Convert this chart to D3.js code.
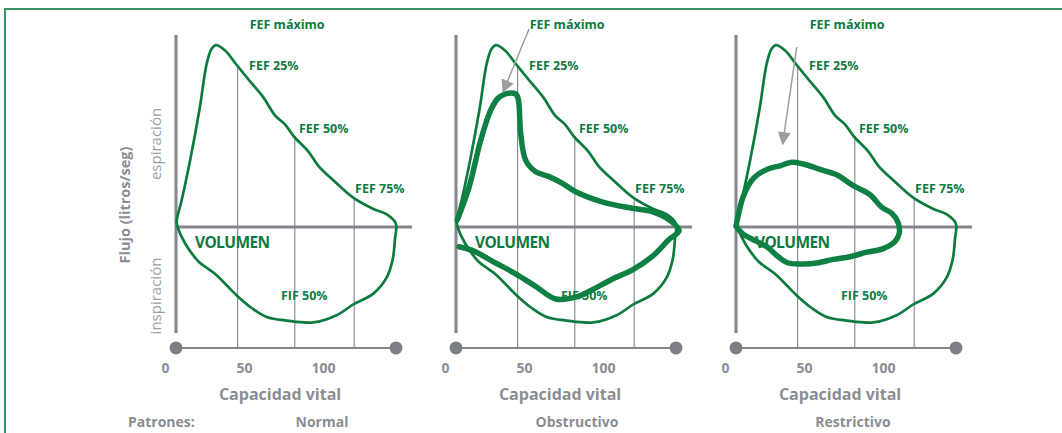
<!DOCTYPE html>
<html lang="es">
<head>
<meta charset="UTF-8">
<title>Curvas flujo-volumen</title>
<script src="https://cdn.jsdelivr.net/npm/d3@7"></script>
<style>
    body { margin: 0; background: #fff; }
    svg { display: block; font-family: "Open Sans", sans-serif; }
</style>
</head>
<body>
<script>
    // patrones y etiquetas
    const patterns = ['Normal', 'Obstructivo', 'Restrictivo']
    const tickValues = [0, 50, 100]

    // curva normal (volumen % CV, flujo l/s), lazo cerrado
    const normalVol = [0.3, 2.6, 6.4, 10.9, 14, 16.2, 18.2, 22.3, 27.6, 33.6, 39.7, 45, 49.5, 53.8, 60.1, 64.7, 71.5, 80.9, 89.7, 95.8, 99.9,
        99.5, 98.5, 95.8, 89.7, 80.6, 73, 62.4, 50.3, 41.2, 34.4, 27.6, 17.7, 10.1, 4.1, 1]
    const normalFlow = [0.3, 1.5, 3.7, 6.7, 9.1, 9.9, 10.1, 9.8, 9.0, 8.1, 7.2, 6.2, 5.7, 5.0, 4.2, 3.4, 2.6, 1.6, 1.0, 0.7, 0.2,
        -0.7, -1.8, -2.8, -3.7, -4.3, -4.9, -5.3, -5.2, -5.0, -4.5, -3.8, -2.6, -1.9, -0.9, -0.1]

    // patron obstructivo (trazo abierto)
    const obstVol = [1.4, 7.4, 18, 27.1, 36.2, 45.3, 54.4, 61.8, 70.9, 80, 89.1, 96.8, 101.4,
        96.8, 89.2, 80.1, 66.4, 54.4, 48.2, 42.3, 36.2, 31.7, 29.4, 28.3, 27.1, 22.6, 19.5, 15.8, 11.2, 5.9, 0.6]
    const obstFlow = [-1.1, -1.3, -2.0, -2.6, -3.3, -4.0, -3.9, -3.5, -2.9, -2.4, -1.65, -0.7, -0.2,
        0.4, 0.85, 1.04, 1.4, 1.96, 2.44, 2.8, 3.07, 3.7, 5.2, 7.1, 7.4, 7.4, 7.2, 6.5, 4.8, 2.2, 0.4]

    // patron restrictivo (sale y vuelve al origen)
    const restVol = [0, 1.5, 3.3, 7.9, 14, 20, 25.3, 30.6, 38.2, 45.8, 53.3, 60.9, 66.2, 70.8, 73.8, 74.2,
        72.3, 67, 59.4, 51.8, 44.2, 36.7, 30.6, 23.8, 19.2, 14, 9.4, 3.3, 0]
    const restFlow = [0.05, 0.9, 1.7, 2.7, 3.2, 3.4, 3.6, 3.5, 3.2, 2.9, 2.3, 1.8, 1.1, 0.76, 0.2, -0.35,
        -0.8, -1.2, -1.4, -1.65, -1.8, -2.0, -2.05, -2.0, -1.65, -1.1, -0.8, -0.4, 0.05]

    // lineas FEF 25/50/75
    const fefVol = [28, 54, 81]
    const fefFlowTop = [9.0, 5.0, 1.6]
    const fefNames = ['FEF 25%', 'FEF 50%', 'FEF 75%']
    const fefLabelVol = [33.2, 55.9, 81.4]
    const fefLabelFlow = [8.7, 5.2, 1.9]

    // flechas (desde -> hasta) para obstructivo y restrictivo
    const arrowFrom = [null, [33.2, 11.0], [27.6, 10.0]]
    const arrowTo = [null, [21.4, 7.5], [21.2, 4.6]]

    const [width, height] = [1062, 433]
    const green = '#0d7a3f', thick = '#0f8043', gray = '#82868c', grayText = '#8a8d92'
    const nameOffset = [146, 121, 117]

    const svg = d3.select('body').append('svg')
        .attr('width', width).attr('height', height)

    svg.append('defs').append('marker')
        .attr('id', 'arrow')
        .attr('viewBox', '0 0 12 12')
        .attr('refX', 11).attr('refY', 6)
        .attr('markerWidth', 15).attr('markerHeight', 13)
        .attr('markerUnits', 'userSpaceOnUse')
        .attr('orient', 'auto')
        .append('path').attr('d', 'M0,0 L12,6 L0,12 Z').attr('fill', '#9a9da2')

    // marco verde
    svg.append('path')
        .attr('d', `M5,${height} V9 H${width}`)
        .attr('fill', 'none').attr('stroke', '#3a9168').attr('stroke-width', 2)

    const origin = d3.scalePoint().domain(patterns).range([176, 736])
    const x = d3.scaleLinear().domain([0, 100]).range([0, 220])
    const y = d3.scaleLinear().domain([0, 10]).range([227, 47])
    const tickX = d3.scaleLinear().domain([0, 100]).range([-11, 147])

    const zip = (a, b) => a.map((v, i) => [v, b[i]])
    const openLine = d3.line().x(d => x(d[0])).y(d => y(d[1])).curve(d3.curveCatmullRom.alpha(0.5))
    const closedLine = d3.line().x(d => x(d[0])).y(d => y(d[1])).curve(d3.curveCatmullRomClosed.alpha(0.5))

    const [axisTop, axisBottom, baseFlow, zeroEnd] = [10.67, -5.89, -6.72, 107.3]

    patterns.forEach((p, i) => {
        const g = svg.append('g').attr('transform', `translate(${origin(p)},0)`)

        // lineas verticales FEF
        g.selectAll('line.fef').data(fefVol).enter().append('line').attr('class', 'fef')
            .attr('x1', d => x(d)).attr('x2', d => x(d))
            .attr('y1', (d, j) => y(fefFlowTop[j])).attr('y2', y(baseFlow))
            .attr('stroke', '#8d9095').attr('stroke-width', 1.2)

        // ejes
        g.append('line').attr('x1', x(0)).attr('x2', x(0))
            .attr('y1', y(axisTop)).attr('y2', y(axisBottom))
            .attr('stroke', gray).attr('stroke-width', 3)
        g.append('line').attr('x1', x(0) - 1).attr('x2', x(zeroEnd))
            .attr('y1', y(0)).attr('y2', y(0))
            .attr('stroke', gray).attr('stroke-width', 3)
        g.append('line').attr('x1', x(0)).attr('x2', x(100))
            .attr('y1', y(baseFlow)).attr('y2', y(baseFlow))
            .attr('stroke', gray).attr('stroke-width', 2)
        g.selectAll('circle').data([0, 100]).enter().append('circle')
            .attr('cx', d => x(d)).attr('cy', y(baseFlow)).attr('r', 6.5)
            .attr('fill', '#7b7f86')

        const ax = g.append('g').attr('transform', 'translate(0,363)')
            .call(d3.axisBottom(tickX).tickValues(tickValues).tickSize(0).tickPadding(0))
        ax.select('.domain').remove()
        ax.selectAll('text').attr('font-size', 14).attr('font-weight', 700)
            .attr('font-family', '"Open Sans", sans-serif').attr('fill', grayText)

        g.append('text').attr('x', x(47.3)).attr('y', 400)
            .attr('text-anchor', 'middle').attr('font-size', 16).attr('font-weight', 700)
            .attr('fill', grayText).text('Capacidad vital')

        g.append('text').attr('x', nameOffset[i]).attr('y', 427)
            .attr('text-anchor', 'middle').attr('font-size', 14).attr('font-weight', 700)
            .attr('fill', grayText).text(p)

        // curva normal
        g.append('path').attr('d', closedLine(zip(normalVol, normalFlow)))
            .attr('fill', 'none').attr('stroke', green).attr('stroke-width', 2.7)

        // etiquetas verdes
        const lab = (t, xx, yy, anchor, size) => g.append('text')
            .attr('x', xx).attr('y', yy).attr('text-anchor', anchor || 'start')
            .attr('font-size', size || 12.5).attr('font-weight', 700).attr('fill', green).text(t)
        lab('FEF máximo', x(50.5), y(11.0), 'middle')
        fefNames.forEach((t, j) => lab(t, x(fefLabelVol[j]), y(fefLabelFlow[j])))
        lab('FIF 50%', x(47.7), y(-4.07))
        lab('VOLUMEN', x(8.6), y(-1.18), 'start', 15.5).attr('letter-spacing', -0.6)

        // curva patologica
        if (i === 1) {
            g.append('path').attr('d', openLine(zip(obstVol, obstFlow)))
                .attr('fill', 'none').attr('stroke', thick).attr('stroke-width', 5.5)
                .attr('stroke-linejoin', 'round').attr('stroke-linecap', 'round')
        }
        if (i === 2) {
            g.append('path').attr('d', openLine(zip(restVol, restFlow)))
                .attr('fill', 'none').attr('stroke', thick).attr('stroke-width', 5.5)
                .attr('stroke-linejoin', 'round').attr('stroke-linecap', 'round')
        }
        if (arrowFrom[i]) {
            g.append('line')
                .attr('x1', x(arrowFrom[i][0])).attr('y1', y(arrowFrom[i][1]))
                .attr('x2', x(arrowTo[i][0])).attr('y2', y(arrowTo[i][1]))
                .attr('stroke', '#9a9da2').attr('stroke-width', 1.5)
                .attr('marker-end', 'url(#arrow)')
        }

        // titulos del eje y
        if (i === 0) {
            const vlab = (t, cx, cy, size, weight) => g.append('text')
                .attr('transform', `translate(${cx},${cy}) rotate(-90)`)
                .attr('text-anchor', 'middle').attr('font-size', size)
                .attr('font-weight', weight).attr('fill', grayText).text(t)
            vlab('Flujo (litros/seg)', -46, 205, 14.5, 700)
            vlab('espiración', -15, 144, 15, 400).attr('fill', '#9c9fa3')
            vlab('inspiración', -15, 296, 15, 400).attr('fill', '#9c9fa3')
            g.append('text').attr('x', -48).attr('y', 427)
                .attr('font-size', 14).attr('font-weight', 700)
                .attr('fill', grayText).text('Patrones:')
        }
    })
</script>
</body>
</html>
